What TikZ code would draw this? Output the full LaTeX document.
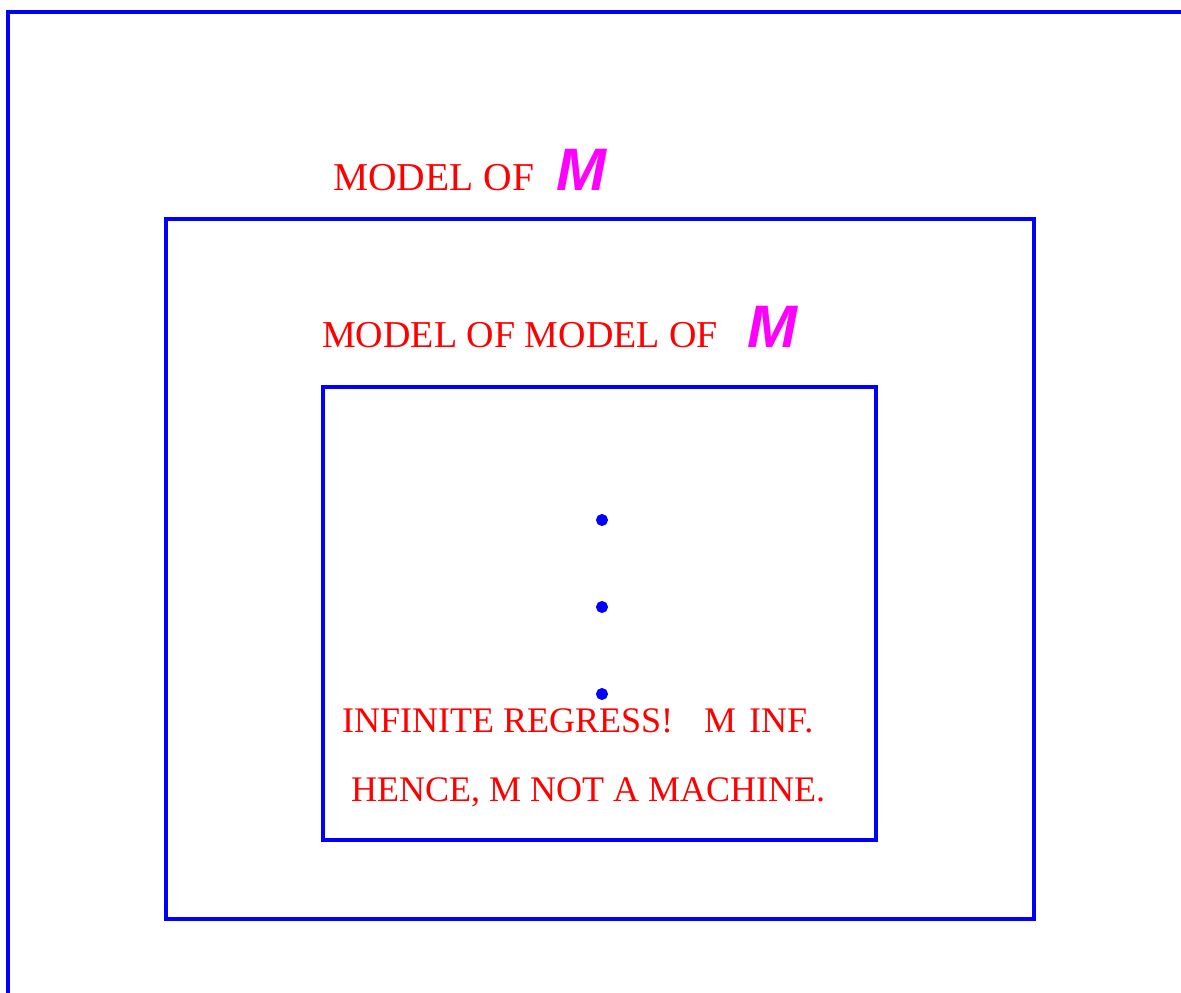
\documentclass[tikz,border=0pt]{standalone}
\usepackage{fontspec}
\setmainfont{Liberation Serif}
\newfontfamily\msans{Liberation Sans}
\definecolor{pblue}{RGB}{0,0,255}
\definecolor{pred}{RGB}{255,0,0}
\definecolor{pmag}{RGB}{255,0,255}
\begin{document}
\begin{tikzpicture}[x=1pt,y=-1pt,
  frame/.style={draw=pblue, line width=3.6pt},
  lbl/.style={text=pred, inner sep=0pt, anchor=base west},
  mm/.style={text=pmag, inner sep=0pt, anchor=base west, font=\msans\bfseries\itshape\fontsize{60}{60}\selectfont},
  dotm/.style={fill=pblue, draw=pblue, line width=1pt, circle, inner sep=0pt, minimum size=11pt}]
\useasboundingbox (0,0) rectangle (1181,993);
\coordinate (o1) at (8,996);
\coordinate (o2) at (8,12);
\coordinate (o3) at (1184,12);
\draw[frame] (o1) -- (o2) -- (o3);
\draw[frame] (166,219) rectangle (1034,919);
\draw[frame] (323,387) rectangle (876,840);
\node[lbl, font=\fontsize{39.5}{39.5}\selectfont] (t1) at (333,190) {MODEL OF};
\node[mm] (m1) at (556,190) {M};
\node[lbl, font=\fontsize{38}{38}\selectfont] (t2) at (322,347) {MODEL OF MODEL OF};
\node[mm] (m2) at (747,347) {M};
\node[dotm] (d1) at (602,520) {};
\node[dotm] (d2) at (602,607) {};
\node[dotm] (d3) at (602,694) {};
\node[lbl, font=\fontsize{36}{36}\selectfont] (t3) at (342,732) {INFINITE REGRESS!\hspace{31pt}M\hspace{13pt}INF.};
\node[lbl, font=\fontsize{36}{36}\selectfont] (t4) at (351,801) {HENCE, M NOT A MACHINE.};
\end{tikzpicture}
\end{document}
